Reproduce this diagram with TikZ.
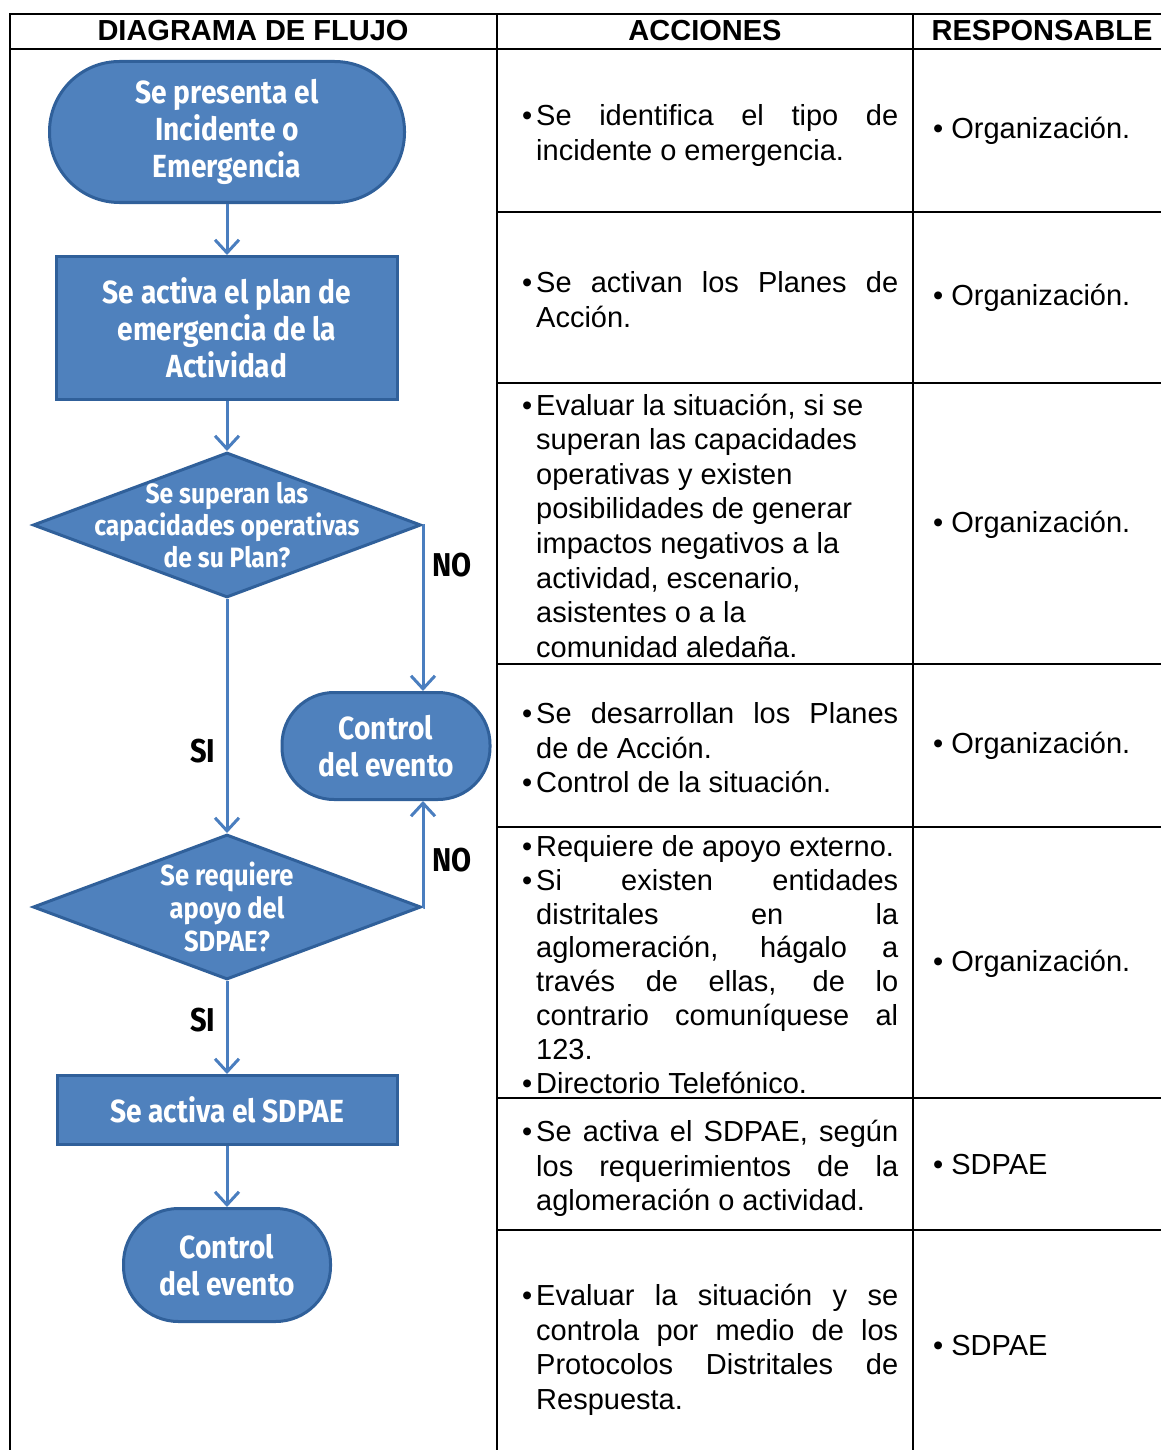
\documentclass[tikz,border=0pt]{standalone}
\usepackage{fontspec}
\setmainfont{Liberation Sans}
\newfontfamily\flowfont[FakeStretch=0.88]{Fira Sans}
\usetikzlibrary{arrows.meta,shapes.geometric,calc}
\definecolor{flowblue}{HTML}{4F81BD}
\definecolor{flowedge}{HTML}{30609A}
\definecolor{arrowblue}{HTML}{4A7EBF}
\newcommand\itm{\par\hangindent=14pt\hangafter=1\noindent\makebox[14pt][l]{•}}
\tikzset{
  grid/.style={line width=2.5pt, draw=black},
  hdr/.style={font=\fontsize{29}{34}\selectfont\bfseries, inner sep=0pt},
  shapebase/.style={fill=flowblue, draw=flowedge, line width=3pt, text=white,
    font=\flowfont\bfseries\fontsize{32}{37}\selectfont, align=center, inner sep=2pt},
  termbox/.style={shapebase, rectangle, rounded corners=#1},
  termbox/.default=50pt,
  procbox/.style={shapebase, rectangle},
  decision/.style={shapebase, diamond, minimum width=388pt, minimum height=145pt,
    inner xsep=-90pt, inner ysep=-30pt},
  arr/.style={draw=arrowblue, line width=3pt, -{Straight Barb[length=13pt,width=24pt]}},
  lbl/.style={font=\flowfont\bfseries\fontsize{33}{36}\selectfont, text=black, inner sep=0pt},
  cell/.style={anchor=west, text width=376pt, align=justify, inner sep=0pt,
    font=\fontsize{29}{34.6}\selectfont,
    execute at begin node={\tolerance=10000\hyphenpenalty=10000\emergencystretch=0pt}},
  resp/.style={anchor=west, inner sep=0pt, font=\fontsize{29}{34.6}\selectfont}
}
\begin{document}
\begin{tikzpicture}[x=1pt,y=-1pt]
\useasboundingbox (0,0) rectangle (1161,1450);
\fill[white] (0,0) rectangle (1161,1450);

% table grid
\draw[grid] (10,1460) -- (10,14) -- (1175,14);
\draw[grid] (10,49) -- (1175,49);
\draw[grid] (497,14) -- (497,1460);
\draw[grid] (913,14) -- (913,1460);
\foreach \yy in {212,383,664,827,1098,1230}
  \draw[grid] (497,\yy) -- (1175,\yy);

% headers
\node[hdr] (h1) at (253,31) {DIAGRAMA DE FLUJO};
\node[hdr] (h2) at (705,31) {ACCIONES};
\node[hdr] (h3) at (1042,31) {RESPONSABLE};

% flowchart
\node[termbox=70pt, minimum width=355pt, minimum height=141pt] (start) at (227,132)
  {Se presenta el\\Incidente o\\Emergencia};
\node[procbox, minimum width=341pt, minimum height=143pt] (plan) at (227,328)
  {Se activa el plan de\\emergencia de la\\Actividad};
\node[decision, font=\flowfont\bfseries\fontsize{28}{32}\selectfont] (q1) at (227,525)
  {Se superan las\\capacidades operativas\\de su Plan?};
\node[termbox=52pt, minimum width=208pt, minimum height=107pt] (ctrl1) at (386,746)
  {Control\\del evento};
\node[decision, font=\flowfont\bfseries\fontsize{29}{33}\selectfont] (q2) at (227,907)
  {Se requiere\\apoyo del\\SDPAE?};
\node[procbox, minimum width=340pt, minimum height=69pt] (sdpae) at (227,1110)
  {Se activa el SDPAE};
\node[termbox=55pt, minimum width=207pt, minimum height=113pt] (ctrl2) at (227,1265)
  {Control\\del evento};

% connectors
\draw[arr] (start.south) -- (plan.north);
\draw[arr] (plan.south) -- (q1.north);
\draw[arr] (q1.south) -- node[lbl, pos=0.65, left=10pt] (si1) {SI} (q2.north);
\draw[arr] (q1.east) -| node[lbl, pos=0.62, right=8pt] (no1) {NO} ($(ctrl1.north)+(37,0)$);
\draw[arr] (q2.east) -| node[lbl, pos=0.72, right=8pt] (no2) {NO} ($(ctrl1.south)+(37,0)$);
\draw[arr] (q2.south) -- node[lbl, pos=0.42, left=10pt] (si2) {SI} (sdpae.north);
\draw[arr] (sdpae.south) -- (ctrl2.north);

% acciones
\node[cell] (a1) at (522,129) {\itm Se identifica el tipo de\linebreak incidente o emergencia.\par};
\node[cell] (a2) at (522,293) {\itm Se activan los Planes de\linebreak Acción.\par};
\node[cell] (a3) at (522,519) {\itm Evaluar la situación, si se\newline superan las capacidades\newline operativas y existen\newline posibilidades de generar\newline impactos negativos a la\newline actividad, escenario,\newline asistentes o a la\newline comunidad aledaña.\par};
\node[cell] (a4) at (522,741) {\itm Se desarrollan los Planes\linebreak de de Acción.\itm Control de la situación.\par};
\node[cell, font=\fontsize{29}{33.8}\selectfont] (a5) at (522,958) {\itm Requiere de apoyo externo.\itm Si existen entidades\linebreak distritales en la\linebreak aglomeración, hágalo a\linebreak través de ellas, de lo\linebreak contrario comuníquese al\linebreak 123.\itm Directorio Telefónico.\par};
\node[cell] (a6) at (522,1162) {\itm Se activa el SDPAE, según\linebreak los requerimientos de la\linebreak aglomeración o actividad.\par};
\node[cell] (a7) at (522,1343) {\itm Evaluar la situación y se\linebreak controla por medio de los\linebreak Protocolos Distritales de\linebreak Respuesta.\par};

% responsables
\node[resp] (r1) at (933,131) {• Organización.};
\node[resp] (r2) at (933,298) {• Organización.};
\node[resp] (r3) at (933,525) {• Organización.};
\node[resp] (r4) at (933,746) {• Organización.};
\node[resp] (r5) at (933,964) {• Organización.};
\node[resp] (r6) at (933,1165) {• SDPAE};
\node[resp] (r7) at (933,1346) {• SDPAE};
\end{tikzpicture}
\end{document}
